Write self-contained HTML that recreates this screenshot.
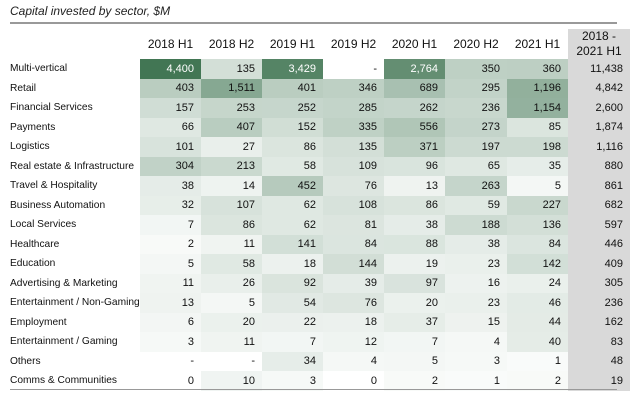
<!DOCTYPE html>
<html><head><meta charset="utf-8"><style>
body{margin:0;width:640px;height:402px;background:#fff;font-family:"Liberation Sans",Arial,sans-serif;position:relative;overflow:hidden}
.title{position:absolute;left:10px;top:4px;font-size:12px;font-style:italic;color:#222}
.hl{position:absolute;left:10px;width:607px;height:2px;background:#999;z-index:5}
table{position:absolute;left:3px;top:29px;border-collapse:collapse;font-size:11px;color:#111;table-layout:fixed;width:627px}
td{padding:0 7px 0 0;height:19.5px;text-align:right;white-space:nowrap;overflow:visible;box-sizing:border-box}
td:first-child{text-align:left;padding-left:7px;font-size:10.2px}
tr.h td{height:29px;text-align:center;padding:0;font-size:12px;line-height:15px}
td.t{background:#d9d9d9}
</style></head><body>
<div class="title">Capital invested by sector, $M</div>
<div class="hl" style="top:22px"></div>
<div class="hl" style="top:389px;height:1px"></div>
<table id="tb">
<colgroup><col style="width:137px"><col style="width:61px"><col style="width:61px"><col style="width:61px"><col style="width:61px"><col style="width:61px"><col style="width:62px"><col style="width:61px"><col style="width:62px"></colgroup>
<tr class="h"><td></td><td>2018 H1</td><td>2018 H2</td><td>2019 H1</td><td>2019 H2</td><td>2020 H1</td><td>2020 H2</td><td>2021 H1</td><td class="t">2018 -<br>2021 H1</td></tr>
<tr><td>Multi-vertical</td><td>4,400</td><td>135</td><td>3,429</td><td>-</td><td>2,764</td><td>350</td><td>360</td><td class="t">11,438</td></tr>
<tr><td>Retail</td><td>403</td><td>1,511</td><td>401</td><td>346</td><td>689</td><td>295</td><td>1,196</td><td class="t">4,842</td></tr>
<tr><td>Financial Services</td><td>157</td><td>253</td><td>252</td><td>285</td><td>262</td><td>236</td><td>1,154</td><td class="t">2,600</td></tr>
<tr><td>Payments</td><td>66</td><td>407</td><td>152</td><td>335</td><td>556</td><td>273</td><td>85</td><td class="t">1,874</td></tr>
<tr><td>Logistics</td><td>101</td><td>27</td><td>86</td><td>135</td><td>371</td><td>197</td><td>198</td><td class="t">1,116</td></tr>
<tr><td>Real estate &amp; Infrastructure</td><td>304</td><td>213</td><td>58</td><td>109</td><td>96</td><td>65</td><td>35</td><td class="t">880</td></tr>
<tr><td>Travel &amp; Hospitality</td><td>38</td><td>14</td><td>452</td><td>76</td><td>13</td><td>263</td><td>5</td><td class="t">861</td></tr>
<tr><td>Business Automation</td><td>32</td><td>107</td><td>62</td><td>108</td><td>86</td><td>59</td><td>227</td><td class="t">682</td></tr>
<tr><td>Local Services</td><td>7</td><td>86</td><td>62</td><td>81</td><td>38</td><td>188</td><td>136</td><td class="t">597</td></tr>
<tr><td>Healthcare</td><td>2</td><td>11</td><td>141</td><td>84</td><td>88</td><td>38</td><td>84</td><td class="t">446</td></tr>
<tr><td>Education</td><td>5</td><td>58</td><td>18</td><td>144</td><td>19</td><td>23</td><td>142</td><td class="t">409</td></tr>
<tr><td>Advertising &amp; Marketing</td><td>11</td><td>26</td><td>92</td><td>39</td><td>97</td><td>16</td><td>24</td><td class="t">305</td></tr>
<tr><td>Entertainment / Non-Gaming</td><td>13</td><td>5</td><td>54</td><td>76</td><td>20</td><td>23</td><td>46</td><td class="t">236</td></tr>
<tr><td>Employment</td><td>6</td><td>20</td><td>22</td><td>18</td><td>37</td><td>15</td><td>44</td><td class="t">162</td></tr>
<tr><td>Entertainment / Gaming</td><td>3</td><td>11</td><td>7</td><td>12</td><td>7</td><td>4</td><td>40</td><td class="t">83</td></tr>
<tr><td>Others</td><td>-</td><td>-</td><td>34</td><td>4</td><td>5</td><td>3</td><td>1</td><td class="t">48</td></tr>
<tr><td>Comms &amp; Communities</td><td>0</td><td>10</td><td>3</td><td>0</td><td>2</td><td>1</td><td>2</td><td class="t">19</td></tr>
</table>
<script>
var rows=document.getElementById('tb').rows;
for(var i=1;i<rows.length;i++){for(var j=1;j<8;j++){var c=rows[i].cells[j];var v=parseFloat(c.textContent.replace(/,/g,''))||0;
var t=Math.min(1,Math.pow(v/4400,0.42));var r=Math.round(255+(66-255)*t),g=Math.round(255+(118-255)*t),b=Math.round(255+(84-255)*t);
c.style.background='rgb('+r+','+g+','+b+')';if(v>2000)c.style.color='#fff';}}
</script>
</body></html>
